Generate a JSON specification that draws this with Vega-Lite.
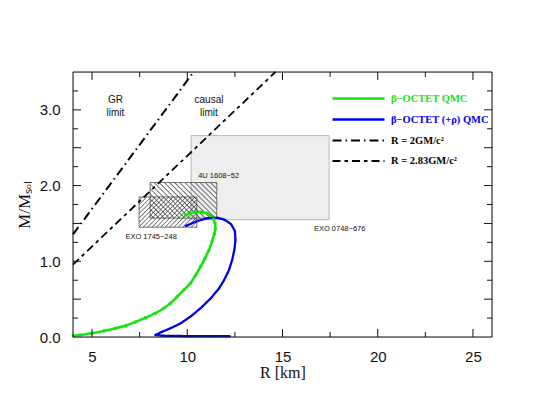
{
  "$schema": "https://vega.github.io/schema/vega-lite/v6.json",
  "width": 419,
  "height": 265,
  "autosize": {"type": "none"},
  "padding": {"left": 73, "top": 72, "right": 46, "bottom": 79},
  "background": "white",
  "datasets": {
    "boxes": [
      {"name": "EXO 0748", "R1": 10.2, "R2": 17.45, "M1": 1.55, "M2": 2.66},
      {"name": "EXO 1745", "R1": 7.47, "R2": 10.5, "M1": 1.45, "M2": 1.85},
      {"name": "4U 1608", "R1": 8.05, "R2": 11.55, "M1": 1.57, "M2": 2.04}
    ],
    "xmajor": [{"R": 5}, {"R": 10}, {"R": 15}, {"R": 20}, {"R": 25}],
    "xminor": [{"R": 7.5}, {"R": 12.5}, {"R": 17.5}, {"R": 22.5}],
    "ymajor": [{"M": 0.5}, {"M": 1}, {"M": 1.5}, {"M": 2}, {"M": 2.5}, {"M": 3}],
    "yminor": [{"M": 0.25}, {"M": 0.75}, {"M": 1.25}, {"M": 1.75}, {"M": 2.25}, {"M": 2.75}, {"M": 3.25}],
    "curves": [
      {"series": "β−OCTET QMC", "i": 0, "R": 4.02, "M": 0.016},
      {"series": "β−OCTET QMC", "i": 1, "R": 4.38, "M": 0.026},
      {"series": "β−OCTET QMC", "i": 2, "R": 5.0, "M": 0.049},
      {"series": "β−OCTET QMC", "i": 3, "R": 5.61, "M": 0.079},
      {"series": "β−OCTET QMC", "i": 4, "R": 6.23, "M": 0.115},
      {"series": "β−OCTET QMC", "i": 5, "R": 6.75, "M": 0.149},
      {"series": "β−OCTET QMC", "i": 6, "R": 7.28, "M": 0.198},
      {"series": "β−OCTET QMC", "i": 7, "R": 7.81, "M": 0.255},
      {"series": "β−OCTET QMC", "i": 8, "R": 8.33, "M": 0.314},
      {"series": "β−OCTET QMC", "i": 9, "R": 8.77, "M": 0.379},
      {"series": "β−OCTET QMC", "i": 10, "R": 9.12, "M": 0.445},
      {"series": "β−OCTET QMC", "i": 11, "R": 9.47, "M": 0.532},
      {"series": "β−OCTET QMC", "i": 12, "R": 9.82, "M": 0.62},
      {"series": "β−OCTET QMC", "i": 13, "R": 10.17, "M": 0.71},
      {"series": "β−OCTET QMC", "i": 14, "R": 10.45, "M": 0.82},
      {"series": "β−OCTET QMC", "i": 15, "R": 10.7, "M": 0.93},
      {"series": "β−OCTET QMC", "i": 16, "R": 10.93, "M": 1.04},
      {"series": "β−OCTET QMC", "i": 17, "R": 11.14, "M": 1.15},
      {"series": "β−OCTET QMC", "i": 18, "R": 11.3, "M": 1.26},
      {"series": "β−OCTET QMC", "i": 19, "R": 11.42, "M": 1.36},
      {"series": "β−OCTET QMC", "i": 20, "R": 11.47, "M": 1.43},
      {"series": "β−OCTET QMC", "i": 21, "R": 11.46, "M": 1.5},
      {"series": "β−OCTET QMC", "i": 22, "R": 11.38, "M": 1.56},
      {"series": "β−OCTET QMC", "i": 23, "R": 11.22, "M": 1.605},
      {"series": "β−OCTET QMC", "i": 24, "R": 11.02, "M": 1.635},
      {"series": "β−OCTET QMC", "i": 25, "R": 10.75, "M": 1.65},
      {"series": "β−OCTET QMC", "i": 26, "R": 10.45, "M": 1.65},
      {"series": "β−OCTET QMC", "i": 27, "R": 10.18, "M": 1.635},
      {"series": "β−OCTET QMC", "i": 28, "R": 9.91, "M": 1.61},
      {"series": "β−OCTET (+ρ) QMC", "i": 0, "R": 12.24, "M": 0.01},
      {"series": "β−OCTET (+ρ) QMC", "i": 1, "R": 11.3, "M": 0.011},
      {"series": "β−OCTET (+ρ) QMC", "i": 2, "R": 10.3, "M": 0.012},
      {"series": "β−OCTET (+ρ) QMC", "i": 3, "R": 9.3, "M": 0.014},
      {"series": "β−OCTET (+ρ) QMC", "i": 4, "R": 8.7, "M": 0.017},
      {"series": "β−OCTET (+ρ) QMC", "i": 5, "R": 8.33, "M": 0.026},
      {"series": "β−OCTET (+ρ) QMC", "i": 6, "R": 8.68, "M": 0.07},
      {"series": "β−OCTET (+ρ) QMC", "i": 7, "R": 9.12, "M": 0.115},
      {"series": "β−OCTET (+ρ) QMC", "i": 8, "R": 9.65, "M": 0.18},
      {"series": "β−OCTET (+ρ) QMC", "i": 9, "R": 10.17, "M": 0.27},
      {"series": "β−OCTET (+ρ) QMC", "i": 10, "R": 10.7, "M": 0.38},
      {"series": "β−OCTET (+ρ) QMC", "i": 11, "R": 11.23, "M": 0.51},
      {"series": "β−OCTET (+ρ) QMC", "i": 12, "R": 11.66, "M": 0.64},
      {"series": "β−OCTET (+ρ) QMC", "i": 13, "R": 11.93, "M": 0.75},
      {"series": "β−OCTET (+ρ) QMC", "i": 14, "R": 12.19, "M": 0.885},
      {"series": "β−OCTET (+ρ) QMC", "i": 15, "R": 12.36, "M": 1.02},
      {"series": "β−OCTET (+ρ) QMC", "i": 16, "R": 12.47, "M": 1.15},
      {"series": "β−OCTET (+ρ) QMC", "i": 17, "R": 12.53, "M": 1.28},
      {"series": "β−OCTET (+ρ) QMC", "i": 18, "R": 12.5, "M": 1.4},
      {"series": "β−OCTET (+ρ) QMC", "i": 19, "R": 12.3, "M": 1.49},
      {"series": "β−OCTET (+ρ) QMC", "i": 20, "R": 11.95, "M": 1.55},
      {"series": "β−OCTET (+ρ) QMC", "i": 21, "R": 11.58, "M": 1.575},
      {"series": "β−OCTET (+ρ) QMC", "i": 22, "R": 11.05, "M": 1.568},
      {"series": "β−OCTET (+ρ) QMC", "i": 23, "R": 10.53, "M": 1.532},
      {"series": "β−OCTET (+ρ) QMC", "i": 24, "R": 9.91, "M": 1.466},
      {"series": "R = 2GM/c²", "i": 0, "R": 4, "M": 1.3546},
      {"series": "R = 2GM/c²", "i": 1, "R": 10.335, "M": 3.5},
      {"series": "R = 2.83GM/c²", "i": 0, "R": 4, "M": 0.957},
      {"series": "R = 2.83GM/c²", "i": 1, "R": 14.63, "M": 3.5}
    ],
    "limits": [
      {"R": 6.23, "M": 3.13, "t": "GR|limit"},
      {"R": 11.14, "M": 3.13, "t": "causal|limit"}
    ],
    "boxlabels": [
      {"R": 10.57, "M": 2.12, "t": "4U 1608−52"},
      {"R": 6.75, "M": 1.325, "t": "EXO 1745−248"},
      {"R": 16.65, "M": 1.43, "t": "EXO 0748−676"}
    ]
  },
  "layer": [
    {
      "data": {"name": "boxes"},
      "transform": [{"filter": "datum.name === 'EXO 0748'"}],
      "mark": {"type": "rect", "fill": "#eeeeee", "stroke": "#a8a8a8", "strokeWidth": 0.8},
      "encoding": {
        "x": {"field": "R1", "type": "quantitative", "scale": {"domain": [4, 26], "nice": false, "zero": false},
          "axis": {"orient": "bottom", "values": [5, 7.5, 10, 12.5, 15, 17.5, 20, 22.5, 25], "grid": false,
            "labelExpr": "datum.value % 5 === 0 ? datum.label : ''", "ticks": true, "tickOpacity": 0, "tickSize": 6, "offset": -6, "domain": false, "labelPadding": 12,
            "labelFont": "Liberation Sans", "labelFontSize": 15, "labelColor": "#111111", "labelFlush": false, "labelOverlap": false,
            "title": "R  [km]", "titleFont": "Liberation Serif", "titleFontSize": 16, "titleFontWeight": "normal", "titleColor": "#111111", "titlePadding": 0.5}},
        "x2": {"field": "R2"},
        "y": {"field": "M1", "type": "quantitative", "scale": {"domain": [0, 3.5], "nice": false, "zero": false},
          "axis": {"orient": "left", "values": [0, 0.25, 0.5, 0.75, 1, 1.25, 1.5, 1.75, 2, 2.25, 2.5, 2.75, 3, 3.25, 3.5], "grid": false,
            "labelExpr": "(datum.value * 2) % 1 === 0 ? format(datum.value, '.1f') : ''", "ticks": true, "tickOpacity": 0, "tickSize": 6, "offset": -6, "domain": false, "labelPadding": 13,
            "labelFont": "Liberation Sans", "labelFontSize": 15, "labelColor": "#111111", "labelFlush": false, "labelOverlap": false,
            "title": "M/Mₛₒₗ", "titleFont": "Liberation Serif", "titleFontSize": 17, "titleFontWeight": "normal", "titleColor": "#111111", "titlePadding": 6}},
        "y2": {"field": "M2"}
      }
    },
    {
      "data": {"name": "boxes"},
      "transform": [{"filter": "datum.name === 'EXO 1745'"}],
      "mark": {"type": "rect", "stroke": "#505050", "strokeWidth": 0.8,
        "fill": {"gradient": "linear", "x1": 0, "y1": 0, "x2": 1.197, "y2": 0.622, "stops": [
          {"offset": 0, "color": "rgba(50,50,50,0)"}, {"offset": 0.025, "color": "rgba(50,50,50,0)"}, {"offset": 0.038, "color": "rgba(50,50,50,0.75)"},
          {"offset": 0.05, "color": "rgba(50,50,50,0)"}, {"offset": 0.075, "color": "rgba(50,50,50,0)"}, {"offset": 0.088, "color": "rgba(50,50,50,0.75)"},
          {"offset": 0.1, "color": "rgba(50,50,50,0)"}, {"offset": 0.125, "color": "rgba(50,50,50,0)"}, {"offset": 0.138, "color": "rgba(50,50,50,0.75)"},
          {"offset": 0.15, "color": "rgba(50,50,50,0)"}, {"offset": 0.175, "color": "rgba(50,50,50,0)"}, {"offset": 0.188, "color": "rgba(50,50,50,0.75)"},
          {"offset": 0.2, "color": "rgba(50,50,50,0)"}, {"offset": 0.225, "color": "rgba(50,50,50,0)"}, {"offset": 0.238, "color": "rgba(50,50,50,0.75)"},
          {"offset": 0.25, "color": "rgba(50,50,50,0)"}, {"offset": 0.275, "color": "rgba(50,50,50,0)"}, {"offset": 0.288, "color": "rgba(50,50,50,0.75)"},
          {"offset": 0.3, "color": "rgba(50,50,50,0)"}, {"offset": 0.325, "color": "rgba(50,50,50,0)"}, {"offset": 0.338, "color": "rgba(50,50,50,0.75)"},
          {"offset": 0.35, "color": "rgba(50,50,50,0)"}, {"offset": 0.375, "color": "rgba(50,50,50,0)"}, {"offset": 0.388, "color": "rgba(50,50,50,0.75)"},
          {"offset": 0.4, "color": "rgba(50,50,50,0)"}, {"offset": 0.425, "color": "rgba(50,50,50,0)"}, {"offset": 0.438, "color": "rgba(50,50,50,0.75)"},
          {"offset": 0.45, "color": "rgba(50,50,50,0)"}, {"offset": 0.475, "color": "rgba(50,50,50,0)"}, {"offset": 0.488, "color": "rgba(50,50,50,0.75)"},
          {"offset": 0.5, "color": "rgba(50,50,50,0)"}, {"offset": 0.525, "color": "rgba(50,50,50,0)"}, {"offset": 0.538, "color": "rgba(50,50,50,0.75)"},
          {"offset": 0.55, "color": "rgba(50,50,50,0)"}, {"offset": 0.575, "color": "rgba(50,50,50,0)"}, {"offset": 0.588, "color": "rgba(50,50,50,0.75)"},
          {"offset": 0.6, "color": "rgba(50,50,50,0)"}, {"offset": 0.625, "color": "rgba(50,50,50,0)"}, {"offset": 0.638, "color": "rgba(50,50,50,0.75)"},
          {"offset": 0.65, "color": "rgba(50,50,50,0)"}, {"offset": 0.675, "color": "rgba(50,50,50,0)"}, {"offset": 0.688, "color": "rgba(50,50,50,0.75)"},
          {"offset": 0.7, "color": "rgba(50,50,50,0)"}, {"offset": 0.725, "color": "rgba(50,50,50,0)"}, {"offset": 0.738, "color": "rgba(50,50,50,0.75)"},
          {"offset": 0.75, "color": "rgba(50,50,50,0)"}, {"offset": 0.775, "color": "rgba(50,50,50,0)"}, {"offset": 0.788, "color": "rgba(50,50,50,0.75)"},
          {"offset": 0.8, "color": "rgba(50,50,50,0)"}, {"offset": 0.825, "color": "rgba(50,50,50,0)"}, {"offset": 0.838, "color": "rgba(50,50,50,0.75)"},
          {"offset": 0.85, "color": "rgba(50,50,50,0)"}, {"offset": 0.875, "color": "rgba(50,50,50,0)"}, {"offset": 0.888, "color": "rgba(50,50,50,0.75)"},
          {"offset": 0.9, "color": "rgba(50,50,50,0)"}, {"offset": 0.925, "color": "rgba(50,50,50,0)"}, {"offset": 0.938, "color": "rgba(50,50,50,0.75)"},
          {"offset": 0.95, "color": "rgba(50,50,50,0)"}, {"offset": 0.975, "color": "rgba(50,50,50,0)"}, {"offset": 0.988, "color": "rgba(50,50,50,0.75)"},
          {"offset": 1, "color": "rgba(50,50,50,0)"}
        ]}},
      "encoding": {
        "x": {"field": "R1", "type": "quantitative"},
        "x2": {"field": "R2"},
        "y": {"field": "M1", "type": "quantitative"},
        "y2": {"field": "M2"}
      }
    },
    {
      "data": {"name": "boxes"},
      "transform": [{"filter": "datum.name === '4U 1608'"}],
      "mark": {"type": "rect", "stroke": "#505050", "strokeWidth": 0.8,
        "fill": {"gradient": "linear", "x1": 0, "y1": 1, "x2": 1.193, "y2": 0.359, "stops": [
          {"offset": 0, "color": "rgba(50,50,50,0)"}, {"offset": 0.025, "color": "rgba(50,50,50,0)"}, {"offset": 0.038, "color": "rgba(50,50,50,0.75)"},
          {"offset": 0.05, "color": "rgba(50,50,50,0)"}, {"offset": 0.075, "color": "rgba(50,50,50,0)"}, {"offset": 0.088, "color": "rgba(50,50,50,0.75)"},
          {"offset": 0.1, "color": "rgba(50,50,50,0)"}, {"offset": 0.125, "color": "rgba(50,50,50,0)"}, {"offset": 0.138, "color": "rgba(50,50,50,0.75)"},
          {"offset": 0.15, "color": "rgba(50,50,50,0)"}, {"offset": 0.175, "color": "rgba(50,50,50,0)"}, {"offset": 0.188, "color": "rgba(50,50,50,0.75)"},
          {"offset": 0.2, "color": "rgba(50,50,50,0)"}, {"offset": 0.225, "color": "rgba(50,50,50,0)"}, {"offset": 0.238, "color": "rgba(50,50,50,0.75)"},
          {"offset": 0.25, "color": "rgba(50,50,50,0)"}, {"offset": 0.275, "color": "rgba(50,50,50,0)"}, {"offset": 0.288, "color": "rgba(50,50,50,0.75)"},
          {"offset": 0.3, "color": "rgba(50,50,50,0)"}, {"offset": 0.325, "color": "rgba(50,50,50,0)"}, {"offset": 0.338, "color": "rgba(50,50,50,0.75)"},
          {"offset": 0.35, "color": "rgba(50,50,50,0)"}, {"offset": 0.375, "color": "rgba(50,50,50,0)"}, {"offset": 0.388, "color": "rgba(50,50,50,0.75)"},
          {"offset": 0.4, "color": "rgba(50,50,50,0)"}, {"offset": 0.425, "color": "rgba(50,50,50,0)"}, {"offset": 0.438, "color": "rgba(50,50,50,0.75)"},
          {"offset": 0.45, "color": "rgba(50,50,50,0)"}, {"offset": 0.475, "color": "rgba(50,50,50,0)"}, {"offset": 0.488, "color": "rgba(50,50,50,0.75)"},
          {"offset": 0.5, "color": "rgba(50,50,50,0)"}, {"offset": 0.525, "color": "rgba(50,50,50,0)"}, {"offset": 0.538, "color": "rgba(50,50,50,0.75)"},
          {"offset": 0.55, "color": "rgba(50,50,50,0)"}, {"offset": 0.575, "color": "rgba(50,50,50,0)"}, {"offset": 0.588, "color": "rgba(50,50,50,0.75)"},
          {"offset": 0.6, "color": "rgba(50,50,50,0)"}, {"offset": 0.625, "color": "rgba(50,50,50,0)"}, {"offset": 0.638, "color": "rgba(50,50,50,0.75)"},
          {"offset": 0.65, "color": "rgba(50,50,50,0)"}, {"offset": 0.675, "color": "rgba(50,50,50,0)"}, {"offset": 0.688, "color": "rgba(50,50,50,0.75)"},
          {"offset": 0.7, "color": "rgba(50,50,50,0)"}, {"offset": 0.725, "color": "rgba(50,50,50,0)"}, {"offset": 0.738, "color": "rgba(50,50,50,0.75)"},
          {"offset": 0.75, "color": "rgba(50,50,50,0)"}, {"offset": 0.775, "color": "rgba(50,50,50,0)"}, {"offset": 0.788, "color": "rgba(50,50,50,0.75)"},
          {"offset": 0.8, "color": "rgba(50,50,50,0)"}, {"offset": 0.825, "color": "rgba(50,50,50,0)"}, {"offset": 0.838, "color": "rgba(50,50,50,0.75)"},
          {"offset": 0.85, "color": "rgba(50,50,50,0)"}, {"offset": 0.875, "color": "rgba(50,50,50,0)"}, {"offset": 0.888, "color": "rgba(50,50,50,0.75)"},
          {"offset": 0.9, "color": "rgba(50,50,50,0)"}, {"offset": 0.925, "color": "rgba(50,50,50,0)"}, {"offset": 0.938, "color": "rgba(50,50,50,0.75)"},
          {"offset": 0.95, "color": "rgba(50,50,50,0)"}, {"offset": 0.975, "color": "rgba(50,50,50,0)"}, {"offset": 0.988, "color": "rgba(50,50,50,0.75)"},
          {"offset": 1, "color": "rgba(50,50,50,0)"}
        ]}},
      "encoding": {
        "x": {"field": "R1", "type": "quantitative"},
        "x2": {"field": "R2"},
        "y": {"field": "M1", "type": "quantitative"},
        "y2": {"field": "M2"}
      }
    },
    {
      "data": {"name": "curves"},
      "mark": {"type": "line", "strokeCap": "butt", "strokeJoin": "round"},
      "encoding": {
        "x": {"field": "R", "type": "quantitative"},
        "y": {"field": "M", "type": "quantitative"},
        "color": {"field": "series", "type": "nominal",
          "scale": {"domain": ["β−OCTET QMC", "β−OCTET (+ρ) QMC", "R = 2GM/c²", "R = 2.83GM/c²"], "range": ["#12e412", "#0000ee", "black", "black"]},
          "legend": {"orient": "none", "legendX": 279, "legendY": 20, "title": null, "symbolType": "M-5.2,0H5.2", "symbolSize": 100, "symbolStrokeWidth": 1.6,
            "labelFont": "Liberation Serif", "labelFontSize": 10.5, "labelFontWeight": "bold", "labelOffset": 26, "rowPadding": 9, "padding": 0, "labelLimit": 200,
            "encode": {"labels": {"update": {"fill": {"signal": "datum.value === 'β−OCTET QMC' ? '#12e412' : datum.value === 'β−OCTET (+ρ) QMC' ? '#0000ee' : 'black'"}}}}}},
        "strokeDash": {"field": "series", "type": "nominal",
          "scale": {"domain": ["β−OCTET QMC", "β−OCTET (+ρ) QMC", "R = 2GM/c²", "R = 2.83GM/c²"], "range": [[1, 0], [1, 0], [9, 4, 1.5, 4], [8, 4, 3.5, 4]]},
          "legend": {"orient": "none", "legendX": 279, "legendY": 20, "title": null, "symbolType": "M-5.2,0H5.2", "symbolSize": 100, "symbolStrokeWidth": 1.6,
            "labelFont": "Liberation Serif", "labelFontSize": 10.5, "labelFontWeight": "bold", "labelOffset": 26, "rowPadding": 9, "padding": 0, "labelLimit": 200,
            "encode": {"labels": {"update": {"fill": {"signal": "datum.value === 'β−OCTET QMC' ? '#12e412' : datum.value === 'β−OCTET (+ρ) QMC' ? '#0000ee' : 'black'"}}}}}},
        "strokeWidth": {"field": "series", "type": "ordinal",
          "scale": {"domain": ["β−OCTET QMC", "β−OCTET (+ρ) QMC", "R = 2GM/c²", "R = 2.83GM/c²"], "range": [2.5, 1.8, 1.1, 1.1]}, "legend": null},
        "order": {"field": "i", "type": "quantitative"}
      }
    },
    {
      "data": {"name": "curves"},
      "transform": [{"filter": "datum.series === 'β−OCTET QMC'"}],
      "mark": {"type": "point", "filled": true, "size": 12, "color": "#12e412", "opacity": 1},
      "encoding": {
        "x": {"field": "R", "type": "quantitative"},
        "y": {"field": "M", "type": "quantitative"}
      }
    },
    {
      "data": {"name": "curves"},
      "transform": [{"filter": "datum.series === 'β−OCTET (+ρ) QMC'"}],
      "mark": {"type": "point", "filled": true, "size": 4, "color": "#0000ee", "opacity": 1},
      "encoding": {
        "x": {"field": "R", "type": "quantitative"},
        "y": {"field": "M", "type": "quantitative"}
      }
    },
    {
      "data": {"name": "limits"},
      "mark": {"type": "text", "font": "Liberation Sans", "fontSize": 10, "align": "center", "baseline": "middle", "lineBreak": "|", "lineHeight": 13.4, "color": "#111111"},
      "encoding": {
        "x": {"field": "R", "type": "quantitative"},
        "y": {"field": "M", "type": "quantitative"},
        "text": {"field": "t"}
      }
    },
    {
      "data": {"name": "boxlabels"},
      "mark": {"type": "text", "font": "Liberation Sans", "fontSize": 7.5, "align": "left", "baseline": "middle", "color": "#111111"},
      "encoding": {
        "x": {"field": "R", "type": "quantitative"},
        "y": {"field": "M", "type": "quantitative"},
        "text": {"field": "t"}
      }
    },
    {
      "data": {"name": "xmajor"},
      "mark": {"type": "tick", "orient": "vertical", "size": 8, "thickness": 1, "yOffset": -4, "color": "#111111", "opacity": 1},
      "encoding": {
        "x": {"field": "R", "type": "quantitative"},
        "y": {"datum": 0, "type": "quantitative"}
      }
    },
    {
      "data": {"name": "xminor"},
      "mark": {"type": "tick", "orient": "vertical", "size": 5, "thickness": 1, "yOffset": -2.5, "color": "#111111", "opacity": 1},
      "encoding": {
        "x": {"field": "R", "type": "quantitative"},
        "y": {"datum": 0, "type": "quantitative"}
      }
    },
    {
      "data": {"name": "xmajor"},
      "mark": {"type": "tick", "orient": "vertical", "size": 8, "thickness": 1, "yOffset": 4, "color": "#111111", "opacity": 1},
      "encoding": {
        "x": {"field": "R", "type": "quantitative"},
        "y": {"datum": 3.5, "type": "quantitative"}
      }
    },
    {
      "data": {"name": "xminor"},
      "mark": {"type": "tick", "orient": "vertical", "size": 5, "thickness": 1, "yOffset": 2.5, "color": "#111111", "opacity": 1},
      "encoding": {
        "x": {"field": "R", "type": "quantitative"},
        "y": {"datum": 3.5, "type": "quantitative"}
      }
    },
    {
      "data": {"name": "ymajor"},
      "mark": {"type": "tick", "orient": "horizontal", "size": 8, "thickness": 1, "xOffset": 4, "color": "#111111", "opacity": 1},
      "encoding": {
        "x": {"datum": 4, "type": "quantitative"},
        "y": {"field": "M", "type": "quantitative"}
      }
    },
    {
      "data": {"name": "yminor"},
      "mark": {"type": "tick", "orient": "horizontal", "size": 5, "thickness": 1, "xOffset": 2.5, "color": "#111111", "opacity": 1},
      "encoding": {
        "x": {"datum": 4, "type": "quantitative"},
        "y": {"field": "M", "type": "quantitative"}
      }
    },
    {
      "data": {"name": "ymajor"},
      "mark": {"type": "tick", "orient": "horizontal", "size": 8, "thickness": 1, "xOffset": -4, "color": "#111111", "opacity": 1},
      "encoding": {
        "x": {"datum": 26, "type": "quantitative"},
        "y": {"field": "M", "type": "quantitative"}
      }
    },
    {
      "data": {"name": "yminor"},
      "mark": {"type": "tick", "orient": "horizontal", "size": 5, "thickness": 1, "xOffset": -2.5, "color": "#111111", "opacity": 1},
      "encoding": {
        "x": {"datum": 26, "type": "quantitative"},
        "y": {"field": "M", "type": "quantitative"}
      }
    },
    {
      "data": {"values": [{"frame": 1}]},
      "mark": {"type": "rect", "fill": null, "stroke": "#111111", "strokeWidth": 1},
      "encoding": {
        "x": {"datum": 4, "type": "quantitative"},
        "x2": {"datum": 26},
        "y": {"datum": 0, "type": "quantitative"},
        "y2": {"datum": 3.5}
      }
    }
  ]
}
